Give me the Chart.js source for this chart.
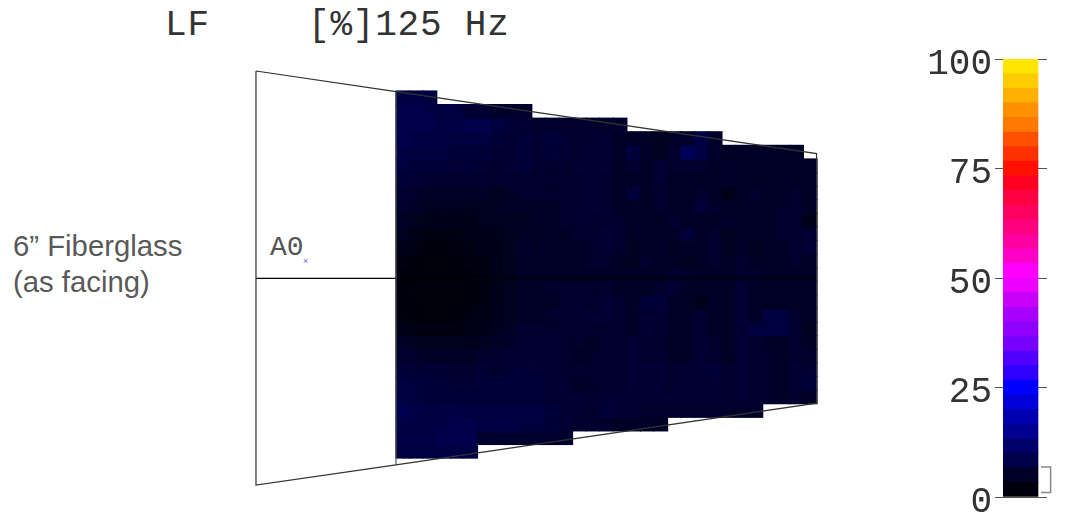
<!DOCTYPE html>
<html>
<head>
<meta charset="utf-8">
<script src="https://cdn.jsdelivr.net/npm/chart.js@4"></script>
<style>
  html, body { margin: 0; background: #fff; }
  body { position: relative; width: 1071px; height: 518px; overflow: hidden; }
  canvas { position: absolute; }
  .label { position: absolute; white-space: pre; line-height: 1; }
  .mono { font-family: "Liberation Mono", monospace; color: #333; }
  .note { font-family: "Liberation Sans", Arial, sans-serif; font-size: 29.3px; color: #595959; }
</style>
</head>
<body>
<div class="label mono" style="left:165px;top:8px;font-size:36px;letter-spacing:0.8px">LF</div>
<div class="label mono" style="left:308px;top:8px;font-size:36px;letter-spacing:0.8px">[%]125 Hz</div>
<div class="label note" style="left:13px;top:231px">6” Fiberglass</div>
<div class="label note" style="left:13px;top:267px">(as facing)</div>
<div class="label mono" style="left:270px;top:234px;font-size:28px;color:#555">A0</div>
<canvas id="mapChart" width="575" height="425" style="left:250px;top:65px"></canvas>
<canvas id="scaleChart" width="140" height="500" style="left:920px;top:30px"></canvas>
<script>
const _ = null;

// LF [%] per seat block, one line per row, front of the hall on the left
const lfValues = [
  [5.5,5.5,5,_,_,_,_,_,_,_,_,_,_,_,_,_,_,_,_,_,_,_,_,_,_,_,_,_,_,_,_],
  [6,6,5.5,5,5,4,4,3.5,3.5,3.5,_,_,_,_,_,_,_,_,_,_,_,_,_,_,_,_,_,_,_,_,_],
  [6,6,6,5.5,5.5,6,6,5,4.5,4,3.5,3.5,3.5,3.5,3.5,3.5,3.5,_,_,_,_,_,_,_,_,_,_,_,_,_,_],
  [6,5.5,5.5,5.5,5,5,5,4.5,4,4.5,4,4.5,4,3.5,3.5,4,3,3,3,2.5,3,3.5,5.5,3.5,_,_,_,_,_,_,_],
  [5.5,5,5,5,4.5,4.5,4.5,4,4,4.5,4,4.5,4,3.5,4,4,3,5,3,2.5,3.5,7,5.5,3.5,3,3,3,3,3,3,_],
  [5,4.5,4.5,4.5,4,4.5,4,3.5,4,4.5,3.5,3.5,3.5,4,4,4,3,3.5,3,4,3.5,3.5,3.5,3,3.5,3,3,3,3,3,3],
  [4.5,4,3.5,3.5,3.5,3.5,3.5,3.5,3.5,3.5,3.5,3.5,3.5,3.5,4,3.5,3,3,3,4,3,3,3,3,3.5,3,3,3,3,3,3],
  [4,3.5,3,3,3,3,3,2.5,3,3.5,3.5,3.5,3.5,3.5,4,3.5,3,4.5,3,3.5,3,3,3.5,3,2,3,3.5,3,3,3.5,3],
  [3.5,3,2.5,2.5,2.5,2.5,2.5,2.5,3,3,3,3,3.5,3.5,4,3.5,3,3,3,3.5,3,3,4.5,3.5,3,3,3,3,3.5,3.5,3],
  [3,2.5,2,2,2,2,2.5,2.5,2.5,2.5,3,3,3.5,3.5,3.5,3.5,3.5,3,3,3,3.5,3,3,3,3.5,3,3,3,3.5,3.5,2],
  [2.5,2,1.5,1.5,1.5,2,2,2,2.5,3,3,3,3,3.5,3.5,4,3.5,3,3,3,3,4.5,3,3.5,2.5,3,3,3,3.5,3.5,4],
  [2,1.5,1.2,1.2,1.5,1.5,2,2,2.5,3.5,3,3,3,3,3.5,4,3.5,2.5,3,3,2.5,3,3,3.5,2.5,3,2.5,3,3,3.5,4],
  [1.5,1.2,1,1,1.2,1.5,1.5,2,2.5,3,3,3,3,3,3.5,3.5,3,2.5,3.5,3,3,2.5,3,3.5,3,3.5,3,3,3,3.5,3],
  [1.2,1,1,1,1,1.2,1.5,2,2.5,3,3,3,3,3,3,3,3,3,3,3,3.5,3.5,3,3,3,3.5,3.5,3,3,3,3],
  [1.2,1,1,1,1,1.2,1.5,2,2.5,3,3,3.5,3.5,3.5,3.5,3.5,3,3,3,3.5,4,3,3,3,3,4,3,3,3,3,3],
  [1.2,1,1,1,1,1.2,1.5,2,2.5,3,3,3,3.5,3.5,3.5,4,3.5,3,4.5,4.5,3,3,2,3,3,4,3,3,3,3,3],
  [1.5,1.2,1,1,1.2,1.5,1.8,2.2,2.5,3,3,3.5,3.5,3.5,4,4,3.5,3,4,4,3,3,4,3,3,4,3,5,5,3.5,3],
  [2,1.5,1.5,1.5,1.5,1.8,2,2.5,3,3.5,3.5,3.5,3.5,3.5,3.5,3.5,3.5,3,4,3.5,3,3,4,3,3,4,5,5,5,3.5,2.5],
  [3,2.5,2.5,2.5,2.5,2.2,2.5,3,3.5,4,4,4,3.5,3.5,3,3.5,3.5,4,3.5,3.5,3,3,4,3.5,3,4,3.5,3,3,3.5,3],
  [3.5,3.5,3,3,3,3,3.5,3.5,4,4,4,4,3.5,3,3.5,3.5,3.5,4,3.5,3.5,3,3,4,3.5,3,4,3.5,3.5,3,3.5,3.5],
  [4.5,4,4,4,3.5,3.5,4,3.5,4,4.5,4,4,3.5,3.5,3.5,3.5,3.5,4,4,4,3.5,4,4,4.5,3.5,4,3.5,3.5,3,4,4],
  [5,5,4.5,4.5,4,4,4.5,4.5,4.5,4.5,4.5,4,4,3,3.5,3.5,3.5,4,4,4,3.5,4,4,4,3.5,4,3.5,3.5,3,4,4.5],
  [5.5,5,4.5,4.5,4.5,4.5,4.5,4.5,4.5,4.5,4.5,4,4,4,3.5,4,4,4,4,4,4,4,4,4,3.5,4,3.5,3.5,3,3.5,3],
  [6.5,5.5,5,5.5,5.5,5,5,5,5,5,5,4.5,4,4,3.5,4.5,4,4,3.5,3.5,3.5,3.5,3.5,3.5,3.5,3.5,3.5,_,_,_,_],
  [5.5,5.5,5.5,5.5,6,6,5.5,5.5,5.5,5,5,4.5,4,3.5,3.5,3.5,3,3,3,3,_,_,_,_,_,_,_,_,_,_,_],
  [5.5,5.5,5.5,6,6,6,3.5,3.5,3.5,3.5,3.5,3.5,3.5,_,_,_,_,_,_,_,_,_,_,_,_,_,_,_,_,_,_],
  [5,5,5,5.5,5.5,5.5,_,_,_,_,_,_,_,_,_,_,_,_,_,_,_,_,_,_,_,_,_,_,_,_,_]
];

// hall outline and centre line, in seat block units
const hallOutlineX = [-10.31, 0, 30.97, 30.97, 0, -10.31, -10.31];
const hallOutlineY = [-1.47, 0.05, 4.6, 22.96, 27.5, 28.99, -1.47];
const frontEdgeX = [0, 0];
const frontEdgeY = [0, 27.5];
const centreLineX = [-10.31, 30.97];
const centreLineY = [13.78, 13.78];
const sourceX = [-6.65];
const sourceY = [12.5];

// colour scale
const scaleTicks = [0, 25, 50, 75, 100];
const bandEdges = [0, 3.33, 6.67, 10, 13.33, 16.67, 20, 23.33, 26.67, 30, 33.33, 36.67, 40, 43.33, 46.67, 50,
  53.33, 56.67, 60, 63.33, 66.67, 70, 73.33, 76.67, 80, 83.33, 86.67, 90, 93.33, 96.67, 100];
const bandColors = ["#00000f", "#000028", "#000048", "#000068", "#000090", "#0000b0", "#0000d8", "#0000ff",
  "#3000ff", "#5000ff", "#7800ff", "#9000ff", "#a800ff", "#c800f8", "#ee00ff", "#ff00ff",
  "#ff00c8", "#ff00a0", "#ff0080", "#ff0060", "#ff0040", "#ff0020", "#ff1000", "#ff3000",
  "#ff5000", "#ff7800", "#ff9000", "#ffb000", "#ffcc00", "#ffe600"];
const rangeMin = 1;
const rangeMax = 6.85;

const lfColor = (v) => `rgb(0,0,${Math.round(v * 12.5)})`;

const toPoints = (xs, ys) => xs.map((x, i) => ({ x: x, y: ys[i] }));

const rowDatasets = lfValues.map((row, r) => {
  const cells = [];
  const colors = [];
  row.forEach((v, c) => {
    if (v === null) return;
    cells.push({ x: c + 0.5, y: [r, r + 1] });
    colors.push(lfColor(v));
  });
  return {
    type: "bar",
    data: cells,
    backgroundColor: colors,
    barPercentage: 1,
    categoryPercentage: 1,
    inflateAmount: 0.6,
    grouped: false,
    order: 2,
  };
});

const lineSet = (xs, ys, color) => ({
  type: "scatter",
  data: toPoints(xs, ys),
  showLine: true,
  borderColor: color,
  borderWidth: 1.2,
  pointRadius: 0,
  order: 1,
  clip: false,
});

new Chart(document.getElementById("mapChart"), {
  data: {
    datasets: [
      lineSet(hallOutlineX, hallOutlineY, "#333"),
      lineSet(frontEdgeX, frontEdgeY, "#555"),
      lineSet(centreLineX, centreLineY, "#000"),
      {
        type: "scatter",
        data: toPoints(sourceX, sourceY),
        pointStyle: "crossRot",
        pointRadius: 2.5,
        borderColor: "#5a5aff",
        borderWidth: 1,
        order: 0,
      },
      ...rowDatasets,
    ],
  },
  options: {
    responsive: false,
    animation: false,
    layout: { padding: 0, autoPadding: false },
    plugins: { legend: { display: false }, tooltip: { enabled: false } },
    scales: {
      x: { type: "linear", min: -10.75, max: 31.59, offset: false, display: false },
      y: { type: "linear", reverse: true, min: -1.913, max: 29.35, display: false },
    },
  },
});

const bandDatasets = bandColors.map((color, i) => ({
  type: "bar",
  data: [{ x: 17.5, y: [bandEdges[i], bandEdges[i + 1]] }],
  backgroundColor: color,
  barThickness: 35,
  grouped: false,
  order: 2,
}));

new Chart(document.getElementById("scaleChart"), {
  data: {
    datasets: [
      {
        type: "scatter",
        data: [
          { x: 38, y: rangeMax },
          { x: 47.6, y: rangeMax },
          { x: 47.6, y: rangeMin },
          { x: 38, y: rangeMin },
        ],
        showLine: true,
        borderColor: "#888",
        borderWidth: 1.5,
        pointRadius: 0,
        order: 1,
        clip: false,
      },
      ...bandDatasets,
    ],
  },
  options: {
    responsive: false,
    animation: false,
    layout: { padding: { top: 29, bottom: 33, left: 0, right: 13 }, autoPadding: false },
    plugins: { legend: { display: false }, tooltip: { enabled: false } },
    scales: {
      x: { type: "linear", min: 0, max: 44, offset: false, display: false },
      y: {
        type: "linear",
        min: 0,
        max: 100,
        afterFit: (axis) => { axis.width = 83; },
        afterBuildTicks: (axis) => { axis.ticks = scaleTicks.map((v) => ({ value: v })); },
        border: { display: false },
        grid: { color: "#555", lineWidth: 1, tickLength: 8 },
        ticks: {
          color: "#333",
          padding: 3,
          labelOffset: 5,
          font: { family: "'Liberation Mono', monospace", size: 36 },
        },
      },
    },
  },
});
</script>
</body>
</html>
